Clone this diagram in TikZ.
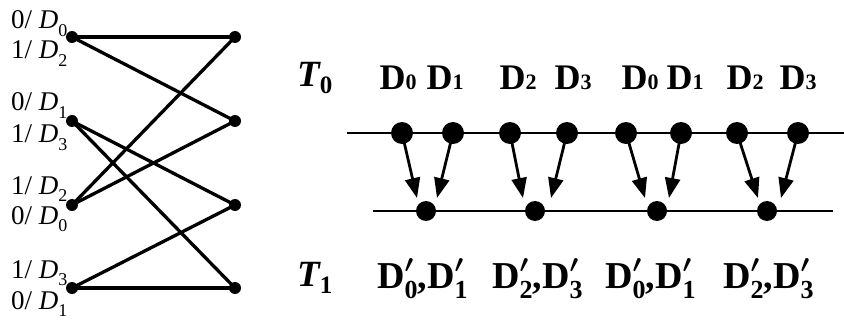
\documentclass[tikz,border=0pt]{standalone}
\usepackage{fontspec}
\setmainfont{Liberation Serif}
\usetikzlibrary{arrows.meta}
\newcommand\lsubd[1]{\raisebox{-0.28em}{\fontsize{18}{18}\selectfont #1}}
\newcommand\llab[2]{#1/ \textit{D}\lsubd{#2}}
\newcommand\tdig[1]{{\fontsize{22}{22}\selectfont #1}}
\newcommand\dpr[1]{D\rlap{\raisebox{0.42em}{\fontsize{28}{28}\selectfont\boldmath$\prime$}}\raisebox{-0.28em}{\fontsize{26}{26}\selectfont #1}}
\tikzset{
  ldot/.style={circle,fill=black,inner sep=0pt,minimum size=12pt},
  tdot/.style={circle,fill=black,inner sep=0pt,minimum size=22pt},
  bdot/.style={circle,fill=black,inner sep=0pt,minimum size=20pt},
  edge/.style={line width=3.3pt},
  rail/.style={line width=2.5pt},
  arr/.style={line width=2.8pt,-{Triangle[length=20pt,width=15pt]}},
  lab/.style={anchor=base west,inner sep=0pt,font=\fontsize{27}{27}\selectfont},
  dlab/.style={anchor=base,inner sep=0pt,font=\fontsize{36}{36}\selectfont\bfseries},
  plab/.style={anchor=base west,inner sep=0pt,font=\fontsize{38}{38}\selectfont\bfseries},
  tlab/.style={anchor=base west,inner sep=0pt}
}
\begin{document}
\begin{tikzpicture}[x=1pt,y=-1pt]
\useasboundingbox (0,0) rectangle (844,326);
% left graph
\node[ldot] (L0) at (72,37) {};
\node[ldot] (L1) at (72,121) {};
\node[ldot] (L2) at (72,205) {};
\node[ldot] (L3) at (72,288) {};
\node[ldot] (R0) at (235,37) {};
\node[ldot] (R1) at (235,121) {};
\node[ldot] (R2) at (235,205) {};
\node[ldot] (R3) at (235,288) {};
\draw[edge] (L0.center) -- (R0.center);
\draw[edge] (L0.center) -- (R1.center);
\draw[edge] (L1.center) -- (R2.center);
\draw[edge] (L1.center) -- (R3.center);
\draw[edge] (L2.center) -- (R0.center);
\draw[edge] (L2.center) -- (R1.center);
\draw[edge] (L3.center) -- (R2.center);
\draw[edge] (L3.center) -- (R3.center);
\node[lab] (a0) at (11,29) {\llab{0}{0}};
\node[lab] (a1) at (11,59) {\llab{1}{2}};
\node[lab] (a2) at (11,111) {\llab{0}{1}};
\node[lab] (a3) at (11,143) {\llab{1}{3}};
\node[lab] (a4) at (11,194) {\llab{1}{2}};
\node[lab] (a5) at (11,224) {\llab{0}{0}};
\node[lab] (a6) at (11,278) {\llab{1}{3}};
\node[lab] (a7) at (11,309) {\llab{0}{1}};
% right part
\node[tlab] (T0) at (297,87) {{\fontsize{37}{37}\selectfont\bfseries\itshape T}\raisebox{-7pt}{\fontsize{25}{25}\selectfont\bfseries 0}};
\node[tlab] (T1) at (297,286) {{\fontsize{37}{37}\selectfont\bfseries\itshape T}\raisebox{-7pt}{\fontsize{25}{25}\selectfont\bfseries 1}};
\node[dlab] (d0) at (398,90) {D\tdig{0}};
\node[dlab] (d1) at (445,90) {D\tdig{1}};
\node[dlab] (d2) at (518,90) {D\tdig{2}};
\node[dlab] (d3) at (573,90) {D\tdig{3}};
\node[dlab] (d4) at (640,90) {D\tdig{0}};
\node[dlab] (d5) at (685,90) {D\tdig{1}};
\node[dlab] (d6) at (745,90) {D\tdig{2}};
\node[dlab] (d7) at (798,90) {D\tdig{3}};
\coordinate (u0) at (347,133);
\coordinate (u1) at (844,133);
\coordinate (v0) at (373,211);
\coordinate (v1) at (833,211);
\draw[rail] (u0) -- (u1);
\draw[rail] (v0) -- (v1);
\node[tdot] (t0) at (402,133) {};
\node[tdot] (t1) at (453,133) {};
\node[tdot] (t2) at (510,133) {};
\node[tdot] (t3) at (567,133) {};
\node[tdot] (t4) at (626,133) {};
\node[tdot] (t5) at (681,133) {};
\node[tdot] (t6) at (737,133) {};
\node[tdot] (t7) at (798,133) {};
\node[bdot] (b0) at (426,211) {};
\node[bdot] (b1) at (535,211) {};
\node[bdot] (b2) at (657,211) {};
\node[bdot] (b3) at (767,211) {};
\coordinate (h0) at (417,198);
\coordinate (h1) at (437,198);
\coordinate (h2) at (523,198);
\coordinate (h3) at (551,198);
\coordinate (h4) at (645,198);
\coordinate (h5) at (669,198);
\coordinate (h6) at (758,198);
\coordinate (h7) at (781,198);
\draw[arr] (t0.center) -- (h0);
\draw[arr] (t1.center) -- (h1);
\draw[arr] (t2.center) -- (h2);
\draw[arr] (t3.center) -- (h3);
\draw[arr] (t4.center) -- (h4);
\draw[arr] (t5.center) -- (h5);
\draw[arr] (t6.center) -- (h6);
\draw[arr] (t7.center) -- (h7);
\node[plab] (p0) at (377,288) {\dpr{0},\dpr{1}};
\node[plab] (p1) at (492,288) {\dpr{2},\dpr{3}};
\node[plab] (p2) at (605,288) {\dpr{0},\dpr{1}};
\node[plab] (p3) at (723,288) {\dpr{2},\dpr{3}};
\end{tikzpicture}
\end{document}
